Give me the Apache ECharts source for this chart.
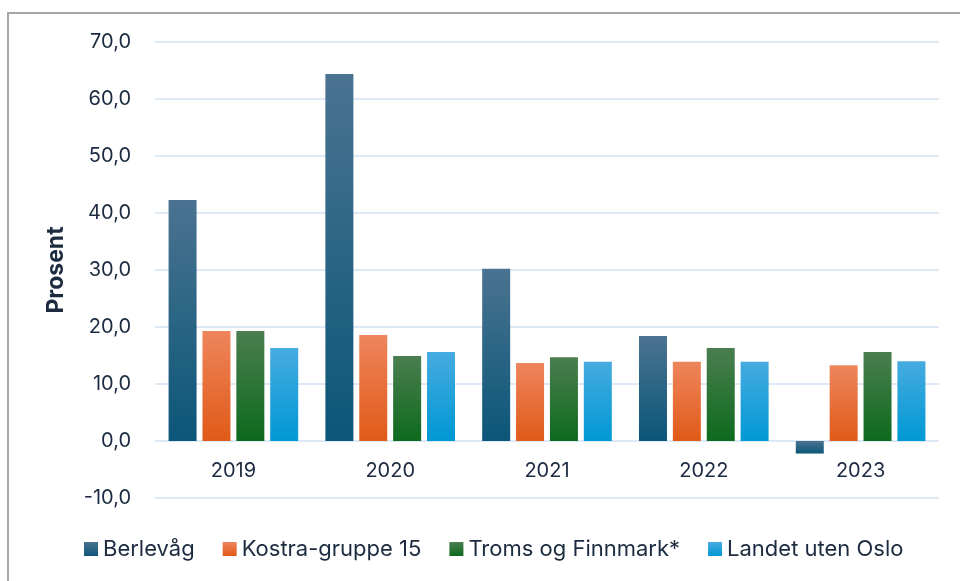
<!DOCTYPE html>
<html>
<head>
<meta charset="utf-8">
<script src="https://cdn.jsdelivr.net/npm/echarts@6/dist/echarts.min.js"></script>
<style>
  html, body { margin: 0; padding: 0; background: #fff; }
  #chart { width: 960px; height: 581px; }
</style>
</head>
<body>
<div id="chart"></div>
<script>
  const years = ['2019', '2020', '2021', '2022', '2023'];
  const berlevag = [42.3, 64.4, 30.2, 18.4, -2.2];
  const kostra = [19.3, 18.6, 13.7, 13.9, 13.3];
  const troms = [19.3, 14.9, 14.7, 16.3, 15.6];
  const landet = [16.3, 15.6, 13.9, 13.9, 14.0];

  const font = 'Inter, "Open Sans", sans-serif';
  const textColor = '#1c2b40';

  function grad(top, bottom) {
    return new echarts.graphic.LinearGradient(0, 0, 0, 1, [
      { offset: 0, color: top },
      { offset: 1, color: bottom }
    ]);
  }

  function bar(name, data, top, bottom) {
    return {
      name: name,
      type: 'bar',
      data: data,
      barWidth: 28,
      barGap: '21%',
      itemStyle: { color: grad(top, bottom) }
    };
  }

  const chart = echarts.init(document.getElementById('chart'));
  chart.setOption({
    animation: false,
    textStyle: { fontFamily: font },
    graphic: [{
      type: 'rect',
      shape: { x: 8, y: 13, width: 1000, height: 700 },
      style: { fill: 'none', stroke: '#a6a6a6', lineWidth: 2 },
      silent: true
    }],
    grid: { left: 155, right: 21, top: 42, bottom: 83 },
    legend: {
      top: 538,
      left: 84,
      padding: 0,
      itemWidth: 14,
      itemHeight: 14,
      itemGap: 28,
      icon: 'rect',
      textStyle: { fontSize: 22, color: textColor, fontFamily: font }
    },
    xAxis: {
      type: 'category',
      data: years,
      // labels sit just under the zero line, one step above the grid bottom
      offset: -57,
      axisLine: { show: false, onZero: false },
      axisTick: { show: false },
      axisLabel: { fontSize: 20, color: textColor, margin: 20 }
    },
    yAxis: {
      type: 'value',
      min: -10,
      max: 70,
      interval: 10,
      name: 'Prosent',
      nameLocation: 'middle',
      nameGap: 87,
      nameTextStyle: { fontSize: 23, fontWeight: 'bold', color: textColor },
      axisLabel: {
        fontSize: 20,
        color: textColor,
        margin: 24,
        formatter: v => v.toFixed(1).replace('.', ',')
      },
      splitLine: { lineStyle: { color: '#d3e2f6', width: 1.5 } }
    },
    series: [
      bar('Berlevåg', berlevag, '#4a7390', '#0b5679'),
      bar('Kostra-gruppe 15', kostra, '#ee855c', '#e05a18'),
      bar('Troms og Finnmark*', troms, '#4b7e50', '#0d6a1d'),
      bar('Landet uten Oslo', landet, '#46abe0', '#0098d4')
    ]
  });
</script>
</body>
</html>
